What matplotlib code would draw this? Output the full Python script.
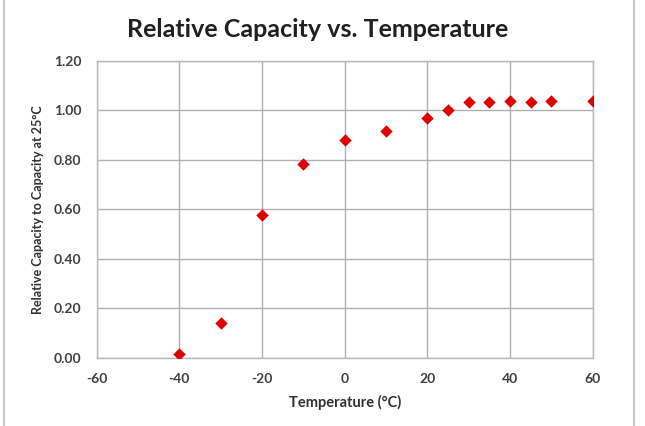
import matplotlib.pyplot as plt
from matplotlib.lines import Line2D

# temperature (degC) and relative capacity
temps = [-40, -30, -20, -10, 0, 10, 20, 25, 30, 35, 40, 45, 50, 60]
capacity = [0.015, 0.14, 0.578, 0.785, 0.881, 0.918, 0.968, 1.0,
            1.035, 1.035, 1.039, 1.035, 1.039, 1.039]

x_ticks = [-60, -40, -20, 0, 20, 40, 60]
y_ticks = [0.0, 0.2, 0.4, 0.6, 0.8, 1.0, 1.2]

plt.rcParams['font.family'] = ['Lato', 'DejaVu Sans']

fig = plt.figure(figsize=(6.45, 4.26), dpi=100)
ax = fig.add_axes([0.150, 0.160, 0.769, 0.697])

ax.scatter(temps, capacity, marker='D', s=40, color='#e00000', zorder=3, linewidths=0)

ax.set_xlim(-60, 60)
ax.set_ylim(0, 1.2)
ax.set_xticks(x_ticks)
ax.set_yticks(y_ticks)
ax.set_yticklabels(['%.2f' % v for v in y_ticks])
ax.set_xticklabels([str(v) for v in x_ticks])
ax.grid(True, color='#b0b0b0', linewidth=1.0)
ax.set_axisbelow(True)
for s in ax.spines.values():
    s.set_color('#b8b8b8')
    s.set_linewidth(1.0)
ax.tick_params(axis='y', length=0, pad=11, labelsize=10, labelcolor='#404040')
ax.tick_params(axis='x', length=0, pad=11, labelsize=10, labelcolor='#404040')
for lbl in ax.get_xticklabels() + ax.get_yticklabels():
    lbl.set_fontweight('bold')

ax.set_xlabel('Temperature (°C)', fontsize=10.5, fontweight='bold', color='#303030', labelpad=7)
ax.set_ylabel('Relative Capacity to Capacity at 25°C', fontsize=9, fontweight='bold',
              color='#303030', labelpad=7)

fig.text(0.493, 0.93, 'Relative Capacity vs. Temperature', ha='center', va='center',
         fontsize=18, fontweight='bold', color='#202020')

# outer chart border
fig.add_artist(Line2D([4 / 645, 4 / 645], [0, 1], color='#c8c8c8', linewidth=1.5))
fig.add_artist(Line2D([634 / 645, 634 / 645], [0, 1], color='#c8c8c8', linewidth=1.5))

fig.savefig('out.png', dpi=100)
